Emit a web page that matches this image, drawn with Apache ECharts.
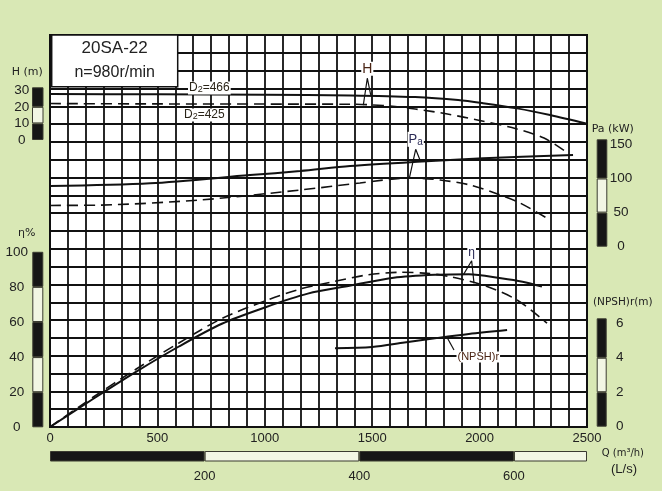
<!DOCTYPE html>
<html><head><meta charset="utf-8">
<script src="https://cdn.jsdelivr.net/npm/echarts@6/dist/echarts.min.js"></script>
<style>html,body{margin:0;padding:0;background:#d9e8b5;}#c{width:662px;height:491px;}</style>
</head><body><div id="c"></div>
<script>
// ---- data ----
const qTicks = [0, 500, 1000, 1500, 2000, 2500];
const gridCols = 30, gridRows = 22;

const h466Q = [0, 500, 1000, 1400, 1700, 1900, 2016, 2174, 2328, 2500];
const h466  = [27.8, 27.6, 27.3, 26.9, 25.9, 24.1, 22.2, 19.1, 15.1, 9.8];
const h425Q = [0, 500, 1000, 1400, 1550, 1700, 1850, 2000, 2150, 2300, 2410];
const h425  = [22.0, 21.8, 21.7, 21.6, 20.8, 18.7, 15.7, 11.8, 7.5, 1.2, -7.9];

const pa466Q = [0, 466, 931, 1164, 1397, 1709, 2016, 2435];
const pa466  = [89, 93, 105, 110.9, 118.3, 124.6, 129.6, 134.5];
const pa425Q = [0, 233, 698, 1164, 1443, 1676, 1816, 1955, 2095, 2188, 2328];
const pa425  = [60.5, 61.0, 68.5, 83.1, 93.4, 100.7, 97.8, 90.5, 75.8, 64.1, 39.2];

const eta466Q = [0, 200, 400, 600, 800, 1000, 1200, 1400, 1600, 1800, 1950, 2100, 2200, 2290];
const eta466  = [0, 16, 31.5, 46, 59, 68.3, 76.2, 80.8, 85.3, 87, 87.3, 85, 83, 80.2];
const eta425Q = [0, 200, 400, 600, 800, 1000, 1164, 1317, 1476, 1629, 1755, 1862, 2016, 2174, 2314];
const eta425  = [0, 17, 33, 48, 62, 72, 78.8, 83, 86.9, 88.4, 87.8, 85.9, 81.1, 72.6, 59.3];

const npshQ = [1327, 1500, 1650, 1800, 1950, 2128];
const npsh  = [4.58, 4.65, 4.91, 5.17, 5.41, 5.64];

// annotation pointers (data units on each curve's axis)
const hPtrQ = [1458.6, 1477.2, 1493];   const hPtrV = [21.1, 37.3, 27.2];
const paPtrQ = [1672.7, 1702.5, 1722.5]; const paPtrV = [100.3, 142.8, 127.1];
const etaPtrQ = [1924, 1963, 1974];      const etaPtrV = [86.9, 95, 82.1];
const npPtrQ = [1846.8, 1880.8];         const npPtrV = [5.25, 4.48];

// scale bars
const hGaugeSeg = [10, 10, 11.8];
const etaGaugeSeg = [20, 20, 20, 20, 20];
const paGaugeSeg = [50, 50, 57.5];
const npGaugeSeg = [2, 2, 2.29];
const lsMax = 2500 / 3.6;
const lsSeg = [200, 200, 200, lsMax - 600];

// ---- chart ----
const FONT = "'Liberation Sans', Arial, sans-serif";
const TXT = '#222';
const zip = (a, b) => a.map((v, i) => [v, b[i]]);
const chart = echarts.init(document.getElementById('c'));

const hidden = {axisLine:{show:false}, axisTick:{show:false}, axisLabel:{show:false}, splitLine:{show:false}};
const gridLine = {show:true, lineStyle:{color:'#111', width:1.8}};

function gaugeY(g, max, interval, pos, margin) {
  return {gridIndex:g, type:'value', min:0, max, interval, position:pos,
    axisLine:{show:false}, axisTick:{show:false}, splitLine:{show:false},
    axisLabel:{margin, align:'center', fontSize:13.5, color:TXT, fontFamily:FONT,
      formatter: v => (Math.abs(v / interval - Math.round(v / interval)) < 1e-6 ? String(v) : '')}};
}
function segSeries(segs, xi, yi, stack) {
  return segs.map((v, i) => ({type:'bar', xAxisIndex:xi, yAxisIndex:yi, stack, barWidth:'100%',
    silent:true, data:[v], itemStyle:{color: i % 2 === 0 ? '#161616' : '#f2f6e4', borderColor:'#3a3a30', borderWidth:1}}));
}
function curve(q, v, yi, dashed) {
  return {type:'line', xAxisIndex:0, yAxisIndex:yi, data:zip(q, v), showSymbol:false, smooth:0.3,
    silent:true, z:5,
    lineStyle:{color:'#111', width: dashed ? 1.6 : 2, type: dashed ? [11, 6] : 'solid'}};
}
function pointer(q, v, yi, labelIdx, label) {
  const d = zip(q, v).map((p, i) => i === labelIdx ? {value:p, label} : p);
  return {type:'line', xAxisIndex:0, yAxisIndex:yi, data:d, showSymbol:true, showAllSymbol:true,
    symbol:'circle', symbolSize:1, itemStyle:{color:'rgba(0,0,0,0)'},
    label:{show:false}, labelLayout:{hideOverlap:false},
    silent:true, z:6, lineStyle:{color:'#111', width:1.2}};
}
const lblBase = {show:true, fontFamily:FONT, color:'#4a2414', fontSize:13, backgroundColor:'#fff', padding:[0,1]};

const option = {
  backgroundColor:'#d9e8b5',
  animation:false,
  grid:[
    {left:50, top:35, width:537, height:392, show:true, backgroundColor:'#fff', borderColor:'#111', borderWidth:2},
    {left:32, top:87.3, width:11.5, height:52.7},
    {left:32.3, top:249.5, width:11, height:177.8},
    {left:596.7, top:139.3, width:10.6, height:107.4},
    {left:596.7, top:318.3, width:10, height:108.4},
    {left:50, top:451, width:537, height:10.5}
  ],
  xAxis:[
    {gridIndex:0, type:'value', min:0, max:2500, interval:500, axisLine:{show:false}, axisTick:{show:false}, splitLine:{show:false},
      axisLabel:{margin:5, fontSize:13, color:TXT, fontFamily:FONT, formatter: v => String(v)}},
    Object.assign({gridIndex:0, type:'value', min:0, max:gridCols, interval:1}, hidden, {splitLine:gridLine}),
    {gridIndex:1, type:'category', data:['g'], show:false},
    {gridIndex:2, type:'category', data:['g'], show:false},
    {gridIndex:3, type:'category', data:['g'], show:false},
    {gridIndex:4, type:'category', data:['g'], show:false},
    {gridIndex:5, type:'value', min:0, max:lsMax, interval:200, axisLine:{show:false}, axisTick:{show:false}, splitLine:{show:false},
      axisLabel:{margin:8, fontSize:13, color:TXT, fontFamily:FONT, formatter: v => (v % 200 === 0 && v > 0 ? String(v) : '')}}
  ],
  yAxis:[
    Object.assign({gridIndex:0, type:'value', min:0, max:gridRows, interval:1}, hidden, {splitLine:gridLine}),
    {gridIndex:0, type:'value', min:0, max:224, show:false},
    {gridIndex:0, type:'value', min:-173.31, max:63.41, show:false},
    {gridIndex:0, type:'value', min:-264.37, max:310.41, show:false},
    {gridIndex:0, type:'value', min:0, max:22.79, show:false},
    gaugeY(1, 31.8, 10, 'left', 10.3),
    gaugeY(2, 101.3, 20, 'left', 15.6),
    gaugeY(3, 157.5, 50, 'right', 13.7),
    gaugeY(4, 6.29, 2, 'right', 13),
    {gridIndex:5, type:'category', data:['q'], show:false}
  ],
  series:[
    curve(h466Q, h466, 2, false),
    curve(h425Q, h425, 2, true),
    curve(pa466Q, pa466, 3, false),
    curve(pa425Q, pa425, 3, true),
    curve(eta466Q, eta466, 1, false),
    curve(eta425Q, eta425, 1, true),
    curve(npshQ, npsh, 4, false),
    pointer(hPtrQ, hPtrV, 2, 1, Object.assign({}, lblBase, {position:'top', distance:2, formatter:'H', fontSize:14})),
    pointer(paPtrQ, paPtrV, 3, 1, Object.assign({}, lblBase, {position:'top', distance:2, formatter:'{a|P}{b|a}',
      rich:{a:{fontSize:13, fontFamily:FONT, color:'#2a2a55'}, b:{fontSize:10, fontFamily:FONT, color:'#2a2a55', padding:[5,0,0,0]}}})),
    pointer(etaPtrQ, etaPtrV, 1, 1, Object.assign({}, lblBase, {position:'top', distance:2, formatter:'η', fontSize:12, color:'#2a2a55'})),
    pointer(npPtrQ, npPtrV, 4, 1, Object.assign({}, lblBase, {position:[3, 2], align:'left', verticalAlign:'top', formatter:'(NPSH)r', fontSize:11})),
    ...segSeries(hGaugeSeg, 2, 5, 'h'),
    ...segSeries(etaGaugeSeg, 3, 6, 'e'),
    ...segSeries(paGaugeSeg, 4, 7, 'p'),
    ...segSeries(npGaugeSeg, 5, 8, 'n'),
    ...segSeries(lsSeg, 6, 9, 'l')
  ],
  graphic:[
    {type:'rect', z:100, shape:{x:51.7, y:35, width:126, height:51.7}, style:{fill:'#fff', stroke:'#111', lineWidth:1.5}},
    {type:'text', z:101, x:114.7, y:48.3, style:{text:'20SA-22', font:"17px 'Liberation Sans', Arial, sans-serif", fill:'#222', align:'center', verticalAlign:'middle'}},
    {type:'text', z:101, x:114.7, y:72.3, style:{text:'n=980r/min', font:"16px 'Liberation Sans', Arial, sans-serif", fill:'#222', align:'center', verticalAlign:'middle'}},
    {type:'text', z:101, x:188, y:88, style:{text:'D{s|2}=466', font:"12px 'Liberation Sans', Arial, sans-serif", fill:'#2a2418', verticalAlign:'middle',
      backgroundColor:'#fff', padding:[0,1], rich:{s:{fontSize:9, fontFamily:FONT, fill:'#2a2418', padding:[4,0,0,0]}}}},
    {type:'text', z:101, x:183, y:115, style:{text:'D{s|2}=425', font:"12px 'Liberation Sans', Arial, sans-serif", fill:'#2a2418', verticalAlign:'middle',
      backgroundColor:'#fff', padding:[0,1], rich:{s:{fontSize:9, fontFamily:FONT, fill:'#2a2418', padding:[4,0,0,0]}}}},
    {type:'text', x:11.7, y:71.7, style:{text:'H (m)', font:"11px 'DejaVu Sans', sans-serif", fill:'#222', verticalAlign:'middle'}},
    {type:'text', x:18, y:232.7, style:{text:'η%', font:"11px 'DejaVu Sans', sans-serif", fill:'#222', verticalAlign:'middle'}},
    {type:'text', x:591.7, y:129.3, style:{text:'Pa (kW)', font:"11px 'DejaVu Sans', sans-serif", fill:'#222', verticalAlign:'middle'}},
    {type:'text', x:593, y:302.7, style:{text:'(NPSH)r(m)', font:"10.5px 'DejaVu Sans', sans-serif", fill:'#222', verticalAlign:'middle'}},
    {type:'text', x:601.7, y:453, style:{text:'Q (m³/h)', font:"10px 'DejaVu Sans', sans-serif", fill:'#222', verticalAlign:'middle'}},
    {type:'text', x:611, y:469, style:{text:'(L/s)', font:"13px 'Liberation Sans', Arial, sans-serif", fill:'#222', verticalAlign:'middle'}}
  ]
};
chart.setOption(option);
</script></body></html>
